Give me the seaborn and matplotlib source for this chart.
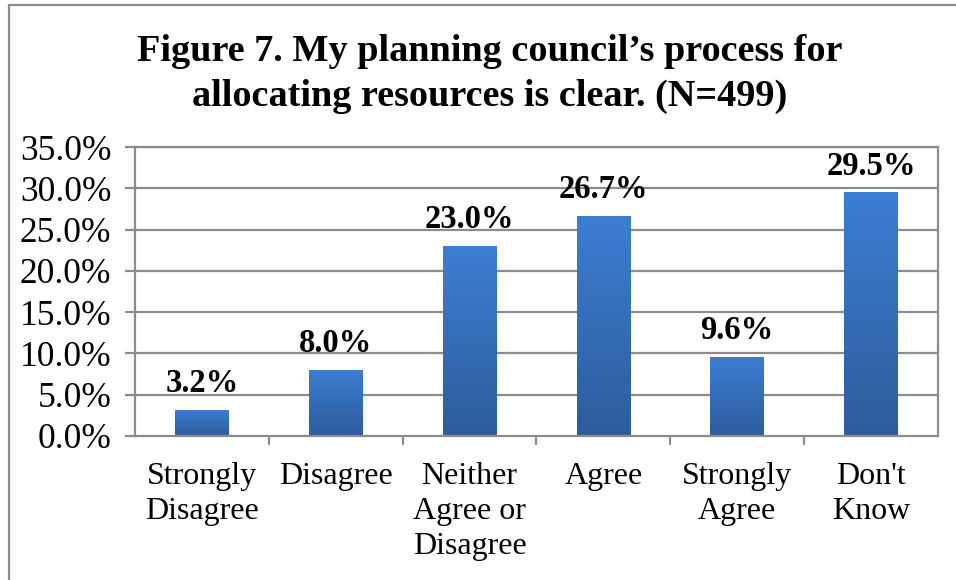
import numpy as np
import pandas as pd
import matplotlib
matplotlib.use("Agg")
import matplotlib.pyplot as plt
import seaborn as sns
from matplotlib.patches import Rectangle
from matplotlib.colors import LinearSegmentedColormap

categories = ["Strongly\nDisagree", "Disagree", "Neither\nAgree or\nDisagree",
              "Agree", "Strongly\nAgree", "Don't\nKnow"]
values = [3.2, 8.0, 23.0, 26.7, 9.6, 29.5]
value_labels = ["3.2%", "8.0%", "23.0%", "26.7%", "9.6%", "29.5%"]
y_ticks = [0, 5, 10, 15, 20, 25, 30, 35]
title = "Figure 7. My planning council\u2019s process for\nallocating resources is clear. (N=499)"

sns.set_theme(style="white")
plt.rcParams["font.family"] = ["Liberation Serif", "DejaVu Serif"]
plt.rcParams["text.color"] = "black"
plt.rcParams["xtick.color"] = "black"
plt.rcParams["ytick.color"] = "black"

df = pd.DataFrame({"category": categories, "value": values})

fig = plt.figure(figsize=(9.56, 5.80), dpi=100)
ax = fig.add_axes([135/956, 1-436/580, (938-135)/956, (436-147)/580])

sns.barplot(data=df, x="category", y="value", ax=ax, color="#3A78C8",
            width=0.40, saturation=1)

ax.set_ylim(0, 35)
ax.set_xlim(-0.5, len(categories)-0.5)
ax.set_yticks(y_ticks)
ax.set_yticklabels([f"{t:.1f}%" for t in y_ticks], fontsize=25.5, color="black")
ax.set_xlabel("")
ax.set_ylabel("")
ax.grid(False)
for t in y_ticks[1:]:
    ax.axhline(t, color="#8c8c8c", lw=1.6, zorder=0)

for s in ax.spines.values():
    s.set_color("#8c8c8c")
    s.set_linewidth(1.6)
    s.set_visible(True)

ax.set_xticks(np.arange(len(categories)))
ax.set_xticklabels(categories, fontsize=23, linespacing=1.27, color="black")
ax.tick_params(axis="x", length=0, pad=19)
ax.tick_params(axis="y", length=7, width=1.6, color="#8c8c8c", direction="out",
               left=True, pad=10)
for b in np.arange(0.5, len(categories)-0.5, 1.0):
    ax.plot([b, b], [0, -0.028], transform=ax.get_xaxis_transform(), color="#8c8c8c",
            lw=1.6, clip_on=False)

# gradient fill for bars
cmap = LinearSegmentedColormap.from_list("g", ["#2D5C9B", "#3C7ED2"])
grad = np.linspace(0, 1, 256).reshape(-1, 1)
for p in list(ax.patches):
    x0, y0 = p.get_x(), p.get_y()
    w, h = p.get_width(), p.get_height()
    p.set_edgecolor("none")
    im = ax.imshow(grad, cmap=cmap, origin="lower", aspect="auto",
                   extent=[x0, x0+w, y0, y0+h], zorder=p.get_zorder()+0.1)
    im.set_clip_path(p)

for i, (v, lab) in enumerate(zip(values, value_labels)):
    ax.text(i, v + 1.3, lab, ha="center", va="bottom", fontsize=23.5,
            fontweight="bold", color="black")

ax.set_xlim(-0.5, len(categories)-0.5)
ax.set_ylim(0, 35)

fig.text(490/956, 1-74/580, title, ha="center", va="center", fontsize=27.5,
         fontweight="bold", linespacing=1.38, color="black")

fig.add_artist(Rectangle((9/956, -0.1), 1.2, 1-5/580+0.1, transform=fig.transFigure,
                         fill=False, edgecolor="#8c8c8c", lw=1.6))

fig.savefig("out.png", dpi=100)
